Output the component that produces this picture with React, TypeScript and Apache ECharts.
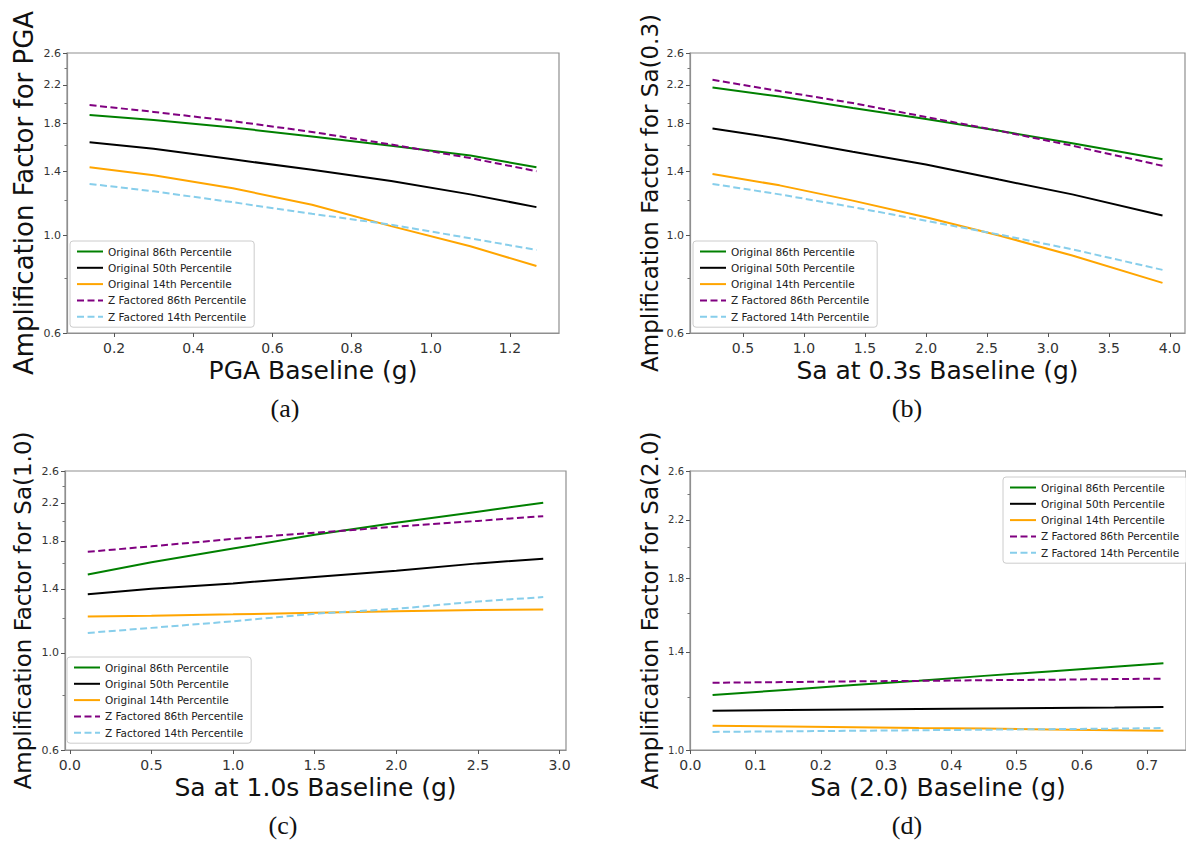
import React, { useEffect, useRef } from 'react';
import * as echarts from 'echarts';

// ---------- data ----------
const seriesNames = [
  'Original 86th Percentile',
  'Original 50th Percentile',
  'Original 14th Percentile',
  'Z Factored 86th Percentile',
  'Z Factored 14th Percentile',
];
const seriesColors = ['#008000', '#000000', '#FFA500', '#800080', '#87CEEB'];
const seriesDashed = [false, false, false, true, true];

// (a) PGA
const xA = [0.138, 0.3, 0.5, 0.7, 0.9, 1.1, 1.267];
const aOrig86 = [1.88, 1.83, 1.76, 1.68, 1.6, 1.52, 1.43];
const aOrig50 = [1.63, 1.575, 1.49, 1.41, 1.33, 1.24, 1.16];
const aOrig14 = [1.43, 1.37, 1.28, 1.175, 1.05, 0.945, 0.852];
const aZ86 = [1.98, 1.91, 1.82, 1.72, 1.61, 1.5, 1.4];
const aZ14 = [1.31, 1.26, 1.19, 1.12, 1.058, 0.985, 0.927];

// (b) Sa(0.3)
const xB = [0.25, 0.8, 1.4, 2.0, 2.6, 3.2, 3.94];
const bOrig86 = [2.17, 2.07, 1.95, 1.84, 1.73, 1.62, 1.49];
const bOrig50 = [1.75, 1.66, 1.55, 1.45, 1.34, 1.24, 1.11];
const bOrig14 = [1.38, 1.3, 1.2, 1.1, 1.0, 0.9, 0.78];
const bZ86 = [2.26, 2.13, 2.0, 1.86, 1.73, 1.6, 1.44];
const bZ14 = [1.31, 1.24, 1.16, 1.08, 1.005, 0.93, 0.835];

// (c) Sa(1.0)
const xC = [0.11, 0.5, 1.0, 1.5, 2.0, 2.5, 2.9];
const cOrig86 = [1.51, 1.61, 1.73, 1.86, 1.98, 2.1, 2.2];
const cOrig50 = [1.36, 1.4, 1.44, 1.49, 1.54, 1.6, 1.64];
const cOrig14 = [1.21, 1.215, 1.224, 1.234, 1.244, 1.252, 1.256];
const cZ86 = [1.7, 1.75, 1.82, 1.88, 1.94, 2.0, 2.05];
const cZ14 = [1.11, 1.14, 1.18, 1.228, 1.26, 1.31, 1.34];

// (d) Sa(2.0)
const xD = [0.034, 0.15, 0.25, 0.35, 0.45, 0.55, 0.65, 0.725];
const dOrig86 = [1.207, 1.229, 1.249, 1.268, 1.289, 1.309, 1.33, 1.346];
const dOrig50 = [1.144, 1.147, 1.149, 1.151, 1.153, 1.155, 1.157, 1.159];
const dOrig14 = [1.087, 1.084, 1.081, 1.078, 1.076, 1.073, 1.07, 1.068];
const dZ86 = [1.259, 1.262, 1.265, 1.267, 1.27, 1.272, 1.275, 1.277];
const dZ14 = [1.064, 1.066, 1.068, 1.07, 1.072, 1.074, 1.076, 1.078];

// axis ticks
const yMajorFull = [0.6, 1.0, 1.4, 1.8, 2.2, 2.6];
const yMinorFull = [0.8, 1.2, 1.6, 2.0, 2.4];
const yMajorD = [1.0, 1.4, 1.8, 2.2, 2.6];
const yMinorD = [1.2, 1.6, 2.0, 2.4];
const xTicksA = [0.2, 0.4, 0.6, 0.8, 1.0, 1.2];
const xTicksB = [0.5, 1.0, 1.5, 2.0, 2.5, 3.0, 3.5, 4.0];
const xTicksC = [0.0, 0.5, 1.0, 1.5, 2.0, 2.5, 3.0];
const xTicksD = [0.0, 0.1, 0.2, 0.3, 0.4, 0.5, 0.6, 0.7];

const xTitles = ['PGA Baseline (g)', 'Sa at 0.3s Baseline (g)', 'Sa at 1.0s Baseline (g)', 'Sa (2.0) Baseline (g)'];
const yTitles = [
  'Amplification Factor for PGA',
  'Amplification Factor for Sa(0.3)',
  'Amplification Factor for Sa(1.0)',
  'Amplification Factor for Sa(2.0)',
];
const captions = ['(a)', '(b)', '(c)', '(d)'];

// ---------- layout ----------
const panels = [
  { grid: { left: 67, top: 53, width: 492, height: 280 }, xMin: 0.081, xMax: 1.324, xTicks: xTicksA, yMin: 0.6, yMajor: yMajorFull, yMinor: yMinorFull, yFont: 11, yTitleSize: 26, yGap: 30, x: xA, ys: [aOrig86, aOrig50, aOrig14, aZ86, aZ14], legend: { left: 70, top: 241 }, caption: [285, 408] },
  { grid: { left: 690, top: 53, width: 495, height: 280 }, xMin: 0.0655, xMax: 4.1245, xTicks: xTicksB, yMin: 0.6, yMajor: yMajorFull, yMinor: yMinorFull, yFont: 11, yTitleSize: 23, yGap: 29, x: xB, ys: [bOrig86, bOrig50, bOrig14, bZ86, bZ14], legend: { left: 693, top: 241 }, caption: [907, 408] },
  { grid: { left: 65, top: 471, width: 501, height: 279 }, xMin: -0.0295, xMax: 3.0395, xTicks: xTicksC, yMin: 0.6, yMajor: yMajorFull, yMinor: yMinorFull, yFont: 11, yTitleSize: 23, yGap: 31, x: xC, ys: [cOrig86, cOrig50, cOrig14, cZ86, cZ14], legend: { left: 67, top: 657 }, caption: [283, 825] },
  { grid: { left: 690, top: 471, width: 506, height: 279 }, xMin: -0.0006, xMax: 0.7596, xTicks: xTicksD, yMin: 1.0, yMajor: yMajorD, yMinor: yMinorD, yFont: 10, yTitleSize: 23, yGap: 29, x: xD, ys: [dOrig86, dOrig50, dOrig14, dZ86, dZ14], legend: { left: 1003, top: 477 }, caption: [907, 825] },
];

const Y_MAX = 2.6;
const FRAME = '#8f8f8f';
const FONT = '"DejaVu Sans", sans-serif';
// amplification factors are plotted on a logarithmic (natural log) y scale
const toLog = (v: number) => Math.log(v);
const fromLog = (v: number) => Math.exp(v);

function buildOption() {
  const grid: any[] = [];
  const xAxis: any[] = [];
  const yAxis: any[] = [];
  const series: any[] = [];
  const legend: any[] = [];
  const graphic: any[] = [];

  panels.forEach((p, g) => {
    grid.push({ ...p.grid, show: true, borderColor: FRAME, borderWidth: 1.2, backgroundColor: 'transparent' });
    xAxis.push({
      type: 'value',
      gridIndex: g,
      min: p.xMin,
      max: p.xMax,
      name: xTitles[g],
      nameLocation: 'middle',
      nameGap: 25,
      nameTextStyle: { fontFamily: FONT, fontSize: 25, color: '#111' },
      axisLine: { show: true, onZero: false, lineStyle: { color: FRAME, width: 1.2 } },
      axisTick: { show: true, length: 4, customValues: p.xTicks, lineStyle: { color: '#555' } },
      axisLabel: {
        customValues: p.xTicks,
        margin: 8,
        fontFamily: FONT,
        fontSize: 14,
        color: '#333',
        formatter: (v: number) => v.toFixed(1),
      },
      splitLine: { show: false },
    });
    const yMinL = toLog(p.yMin);
    const yMaxL = toLog(Y_MAX);
    yAxis.push({
      type: 'value',
      gridIndex: g,
      min: yMinL,
      max: yMaxL,
      name: yTitles[g],
      nameLocation: 'middle',
      nameRotate: 90,
      nameGap: p.yGap,
      nameTextStyle: { fontFamily: FONT, fontSize: p.yTitleSize, color: '#111' },
      axisLine: { show: true, onZero: false, lineStyle: { color: FRAME, width: 1.2 } },
      axisTick: { show: true, length: 4, customValues: p.yMajor.map(toLog), lineStyle: { color: '#555' } },
      axisLabel: {
        customValues: p.yMajor.map(toLog),
        margin: 6,
        fontFamily: FONT,
        fontSize: p.yFont,
        color: '#333',
        formatter: (v: number) => fromLog(v).toFixed(1),
      },
      splitLine: { show: false },
    });
    yAxis.push({
      type: 'value',
      gridIndex: g,
      min: yMinL,
      max: yMaxL,
      position: 'left',
      axisLine: { show: false, onZero: false },
      axisTick: { show: true, length: 2.5, customValues: p.yMinor.map(toLog), lineStyle: { color: '#777' } },
      axisLabel: { show: false },
      splitLine: { show: false },
    });
    seriesNames.forEach((name, s) => {
      series.push({
        type: 'line',
        name,
        xAxisIndex: g,
        yAxisIndex: g * 2,
        symbol: 'circle',
        showSymbol: false,
        smooth: false,
        color: seriesColors[s],
        lineStyle: { color: seriesColors[s], width: 2, type: seriesDashed[s] ? [7, 3.5] : 'solid' },
        data: p.x.map((xv, i) => [xv, toLog(p.ys[s][i])]),
        z: 2 + s,
      });
    });
    legend.push({
      left: p.legend.left,
      top: p.legend.top,
      orient: 'vertical',
      data: seriesNames,
      itemWidth: 26,
      itemHeight: 12,
      itemGap: 5.3,
      padding: [5, 8, 5, 6],
      backgroundColor: 'rgba(255,255,255,0.85)',
      borderColor: '#cccccc',
      borderWidth: 1,
      borderRadius: 3,
      selectedMode: false,
      itemStyle: { opacity: 0 },
      textStyle: { fontFamily: FONT, fontSize: 10.5, color: '#222' },
    });
    graphic.push({
      type: 'text',
      x: p.caption[0],
      y: p.caption[1],
      style: {
        text: captions[g],
        font: '26px "Liberation Serif", "Times New Roman", serif',
        fill: '#111',
        textAlign: 'center',
        textVerticalAlign: 'middle',
      },
    });
  });

  return { animation: false, backgroundColor: '#ffffff', grid, xAxis, yAxis, series, legend, graphic };
}

export default function App() {
  const ref = useRef<HTMLDivElement>(null);
  useEffect(() => {
    if (!ref.current) return;
    const chart = echarts.init(ref.current, undefined, { renderer: 'svg' });
    chart.setOption(buildOption() as any);
    return () => chart.dispose();
  }, []);
  return (
    <div
      ref={ref}
      style={{ position: 'fixed', left: 0, top: 0, width: 1186, height: 843, background: '#fff' }}
    />
  );
}
